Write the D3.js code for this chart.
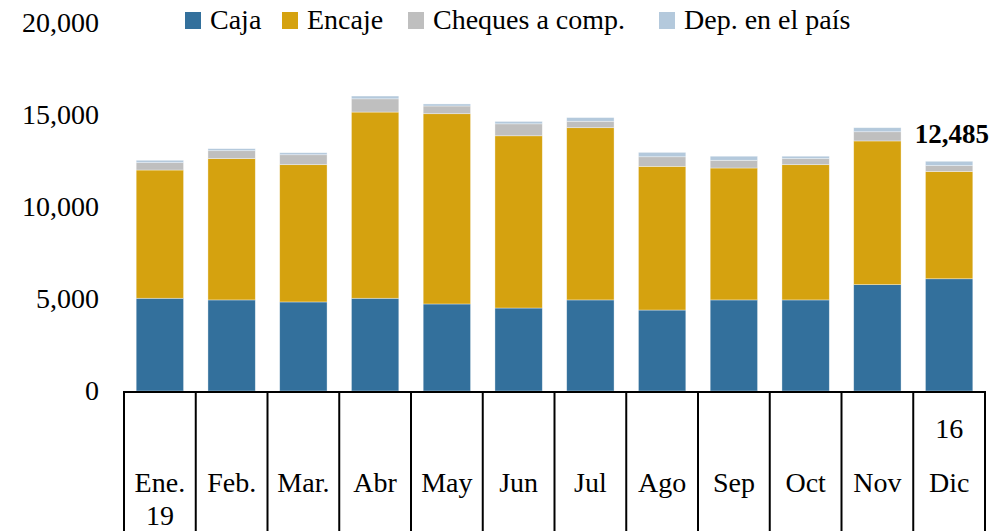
<!DOCTYPE html>
<html><head><meta charset="utf-8">
<script src="https://cdn.jsdelivr.net/npm/d3@7"></script>
<style>
html,body{margin:0;padding:0;background:#fff;}
svg{display:block;font-family:"Liberation Serif","Times New Roman",serif;}
</style></head>
<body>
<svg id="chart" width="995" height="531"></svg>
<script>
const months = ["Ene.","Feb.","Mar.","Abr","May","Jun","Jul","Ago","Sep","Oct","Nov","Dic"];
const yearBelow = ["19","","","","","","","","","","",""];
const yearAbove = ["","","","","","","","","","","","16"];
const seriesNames = ["Caja","Encaje","Cheques a comp.","Dep. en el país"];
const caja    = [5040, 4950, 4840, 5040, 4730, 4510, 4950, 4400, 4950, 4950, 5780, 6100];
const encaje  = [6970, 7680, 7460, 10120, 10340, 9360, 9360, 7810, 7170, 7350, 7810, 5830];
const cheques = [400, 430, 540, 720, 420, 650, 350, 520, 420, 330, 500, 320];
const depPais = [130, 110, 110, 150, 110, 130, 200, 240, 220, 130, 220, 235];
const yTicks = [0, 5000, 10000, 15000, 20000];
const totalLabel = "12,485";
const colors = ["#33709c", "#d5a20f", "#bfbfbf", "#b4c9dc"];

const svg = d3.select("#chart");
const left = 124, right = 985, y0 = 391, yTop = 23;
const FS = 28;

const x = d3.scaleBand().domain(months).range([left, right]).paddingInner(0.34).paddingOuter(0.17);
const y = d3.scaleLinear().domain([0, 20000]).range([y0, yTop]);

const rows = months.map((m, i) => ({m, caja: caja[i], encaje: encaje[i], cheques: cheques[i], dep: depPais[i]}));
const keys = ["caja","encaje","cheques","dep"];
const stacked = d3.stack().keys(keys)(rows);

svg.append("g").selectAll("g").data(stacked).join("g")
  .attr("fill", (d, i) => colors[i])
  .selectAll("rect").data(d => d).join("rect")
  .attr("x", d => x(d.data.m))
  .attr("width", x.bandwidth())
  .attr("y", d => y(d[1]))
  .attr("height", d => y(d[0]) - y(d[1]))
  .attr("stroke", "#ffffff").attr("stroke-opacity", 0.5).attr("stroke-width", 0.7);

// y axis labels
const yAxis = d3.axisLeft(y).tickValues(yTicks).tickFormat(d3.format(",")).tickSize(0).tickPadding(25);
const ga = svg.append("g").attr("transform", `translate(${left},0)`).call(yAxis);
ga.select(".domain").remove();
ga.selectAll("text").attr("font-size", FS).attr("font-family", '"Liberation Serif",serif').attr("fill", "#000");

// x axis line and category separators
const step = x.step();
svg.append("line").attr("x1", left).attr("x2", right).attr("y1", y0 + 1).attr("y2", y0 + 1)
  .attr("stroke", "#000").attr("stroke-width", 2);
const bounds = d3.range(months.length + 1).map(i => left + i * step);
svg.append("g").selectAll("line").data(bounds).join("line")
  .attr("x1", d => d).attr("x2", d => d).attr("y1", y0).attr("y2", 531)
  .attr("stroke", "#000").attr("stroke-width", 2);

const cx = m => x(m) + x.bandwidth() / 2;
const gl = svg.append("g").attr("font-size", FS).attr("fill", "#000").attr("text-anchor", "middle");
gl.selectAll("text.m").data(months).join("text").attr("class","m")
  .attr("x", cx).attr("y", 492).text(d => d);
gl.selectAll("text.yb").data(months.filter((m, i) => yearBelow[i])).join("text").attr("class","yb")
  .attr("x", cx).attr("y", 525).text(d => yearBelow[months.indexOf(d)]);
gl.selectAll("text.ya").data(months.filter((m, i) => yearAbove[i])).join("text").attr("class","ya")
  .attr("x", cx).attr("y", 438).text(d => yearAbove[months.indexOf(d)]);

// total label for last bar
svg.append("text").attr("x", right + 4).attr("y", 143)
  .attr("font-size", 27).attr("font-weight", "bold").attr("text-anchor", "end").attr("fill", "#000")
  .text(totalLabel);

// legend
const legX = [185, 282, 408, 659];
const lg = svg.append("g");
seriesNames.forEach((n, i) => {
  lg.append("rect").attr("x", legX[i]).attr("y", 12).attr("width", 16).attr("height", 17).attr("fill", colors[i]);
  lg.append("text").attr("x", legX[i] + 25).attr("y", 29).attr("font-size", FS).attr("fill", "#000").text(n);
});
</script>
</body></html>
